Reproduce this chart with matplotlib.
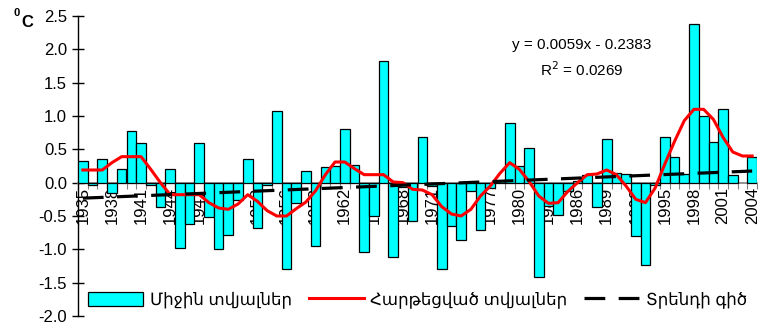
import numpy as np
import matplotlib
matplotlib.use("Agg")
import matplotlib.pyplot as plt

plt.rcParams['font.family'] = ['Liberation Sans', 'DejaVu Sans']

years = np.arange(1935, 2005)

# yearly temperature anomalies, degC (2003 missing)
anomaly = [0.33, -0.04, 0.35, -0.15, 0.20, 0.78, 0.59, -0.03, -0.37, 0.20,
           -0.98, -0.62, 0.59, -0.52, -1.00, -0.79, -0.26, 0.35, -0.68, -0.04,
           1.08, -1.30, -0.31, 0.17, -0.95, 0.24, 0.25, 0.80, 0.27, -1.04,
           -0.50, 1.82, -1.11, -0.06, -0.58, 0.69, -0.05, -1.30, -0.65, -0.86,
           -0.13, -0.71, -0.08, 0.02, 0.89, 0.25, 0.52, -1.41, -0.35, -0.48,
           -0.13, 0.03, 0.12, -0.37, 0.65, 0.14, 0.13, -0.80, -1.24, -0.04,
           0.69, 0.39, 0.13, 2.38, 1.00, 0.61, 1.11, 0.11, np.nan, 0.39]

# smoothed series
smoothed = [0.19, 0.19, 0.19, 0.30, 0.39, 0.39, 0.39, 0.20, 0.00, -0.18,
            -0.18, -0.18, -0.18, -0.30, -0.38, -0.40, -0.32, -0.18, -0.28, -0.42,
            -0.50, -0.50, -0.39, -0.29, -0.12, 0.12, 0.31, 0.31, 0.21, 0.12,
            0.12, 0.12, 0.01, 0.00, -0.10, -0.11, -0.18, -0.36, -0.47, -0.50,
            -0.40, -0.20, -0.05, 0.14, 0.30, 0.20, 0.02, -0.20, -0.31, -0.30,
            -0.13, 0.00, 0.12, 0.13, 0.19, 0.12, -0.05, -0.25, -0.30, -0.08,
            0.28, 0.62, 0.93, 1.10, 1.10, 0.95, 0.68, 0.46, 0.40, 0.40]

# linear trend, x counts years from 1
slope = 0.0059
intercept = -0.2383
r2 = 0.0269

pos = np.arange(len(years))
trend = slope * (pos + 1) + intercept

fig = plt.figure(figsize=(7.6, 3.3), dpi=100)
ax = fig.add_axes([78 / 760, 14 / 330, 679 / 760, 300 / 330])

bars = ax.bar(pos, anomaly, width=1.0, color='#00FFFF', edgecolor='black', linewidth=0.9,
              zorder=3, label='Միջին տվյալներ')
l_smooth, = ax.plot(pos, smoothed, color='red', linewidth=2.2, zorder=4,
                    label='Հարթեցված տվյալներ')
l_trend, = ax.plot(pos, trend, color='black', linewidth=2.3, linestyle=(0, (6.5, 4.2)),
                   zorder=4, label='Տրենդի գիծ')

ax.set_xlim(-0.5, len(years) - 0.5)
ax.set_ylim(-2.0, 2.5)

for s in ['top', 'right']:
    ax.spines[s].set_visible(False)
ax.spines['bottom'].set_position(('data', 0))
ax.spines['bottom'].set_color('#808080')
ax.spines['bottom'].set_linewidth(1.2)
ax.spines['left'].set_linewidth(1.0)

ax.set_yticks(np.arange(-2.0, 2.51, 0.5))
ax.set_yticklabels([f'{v:.1f}' for v in np.arange(-2.0, 2.51, 0.5)], fontsize=12)
ax.tick_params(axis='y', direction='inout', length=8, width=1.0, pad=4)

# ticks at bar edges, labels every third year
ax.set_xticks(np.arange(-0.5, len(years), 1.0))
ax.set_xticklabels([])
ax.tick_params(axis='x', which='major', direction='out', length=4, width=0.8, color='#808080')
ax.set_xticks(pos[::3], minor=True)
ax.set_xticklabels([str(y) for y in years[::3]], minor=True, rotation=90, fontsize=12)
ax.tick_params(axis='x', which='minor', length=0, pad=3)

ax.text(0.742, 0.905, f'y = {slope}x - {abs(intercept)}', transform=ax.transAxes,
        fontsize=11, ha='center', va='center')
ax.text(0.742, 0.82, f'R$^2$ = {r2}', transform=ax.transAxes,
        fontsize=11, ha='center', va='center')

fig.text(0.018, 0.975, '0', fontsize=8, fontweight='bold', va='top', ha='left')
fig.text(0.028, 0.955, 'C', fontsize=12, fontweight='bold', va='top', ha='left')

ax.legend(handles=[bars, l_smooth, l_trend], loc='lower center',
          bbox_to_anchor=(0.5, -0.025), ncol=3, frameon=False,
          fontsize=12, handlelength=3.3, handleheight=0.9, columnspacing=1.0,
          handletextpad=0.4)

fig.savefig('out.png', dpi=100)
